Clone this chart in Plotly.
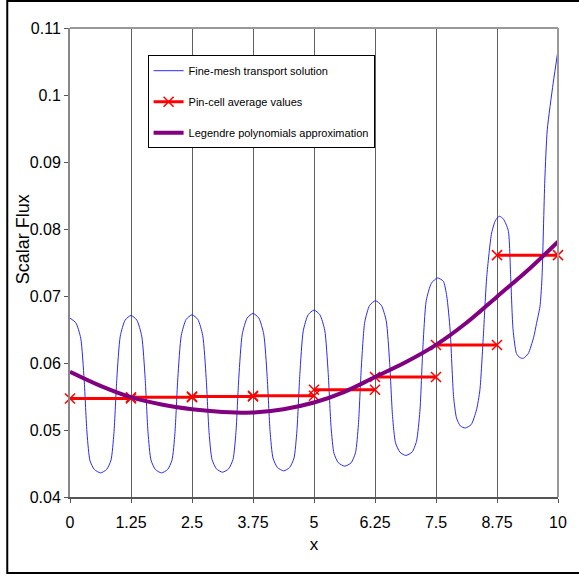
import plotly.graph_objects as go

# ---- Data ----
# Fine-mesh transport solution (x, flux)
fine_x = [0.00, 0.12, 0.22, 0.29, 0.35, 0.41, 0.50, 0.625,
          0.75, 0.84, 0.90, 0.96, 1.03, 1.13, 1.25,
          1.37, 1.47, 1.54, 1.60, 1.66, 1.75, 1.875,
          2.00, 2.09, 2.15, 2.21, 2.28, 2.38, 2.50,
          2.62, 2.72, 2.79, 2.85, 2.91, 3.00, 3.125,
          3.25, 3.34, 3.40, 3.46, 3.53, 3.63, 3.75,
          3.87, 3.97, 4.04, 4.10, 4.16, 4.25, 4.38,
          4.50, 4.59, 4.65, 4.71, 4.78, 4.88, 5.00,
          5.12, 5.22, 5.29, 5.35, 5.41, 5.50, 5.63,
          5.76, 5.85, 5.91, 5.97, 6.04, 6.14, 6.26,
          6.38, 6.48, 6.55, 6.61, 6.67, 6.76, 6.88,
          7.01, 7.10, 7.17, 7.23, 7.30, 7.405, 7.53,
          7.65, 7.72, 7.79, 7.86, 7.92, 8.00, 8.10,
          8.22, 8.33, 8.40, 8.47, 8.54, 8.64, 8.72, 8.80,
          8.88, 8.98, 9.03, 9.08, 9.15, 9.22, 9.29,
          9.39, 9.50, 9.56, 9.63, 9.67, 9.73, 9.78, 9.90, 10.00]
fine_y = [0.0667, 0.0660, 0.0637, 0.0575, 0.0494, 0.0454, 0.0441, 0.0436,
          0.0441, 0.0455, 0.0495, 0.0577, 0.0640, 0.0664, 0.0671,
          0.0664, 0.0640, 0.0577, 0.0495, 0.0455, 0.0441, 0.0436,
          0.0441, 0.0455, 0.0495, 0.0578, 0.0641, 0.0665, 0.0672,
          0.0665, 0.0641, 0.0578, 0.0496, 0.0456, 0.0442, 0.0437,
          0.0442, 0.0456, 0.0496, 0.0579, 0.0643, 0.0667, 0.0674,
          0.0667, 0.0643, 0.0580, 0.0498, 0.0458, 0.0444, 0.0439,
          0.0444, 0.0458, 0.0499, 0.0583, 0.0648, 0.0672, 0.0679,
          0.0672, 0.0649, 0.0586, 0.0504, 0.0465, 0.0451, 0.0446,
          0.0451, 0.0466, 0.0508, 0.0594, 0.0661, 0.0686, 0.0693,
          0.0686, 0.0663, 0.0601, 0.0520, 0.0481, 0.0467, 0.0462,
          0.0467, 0.0483, 0.0528, 0.0621, 0.0693, 0.0719, 0.0727,
          0.0722, 0.0700, 0.0649, 0.0550, 0.0518, 0.0506, 0.0503,
          0.0508, 0.0530, 0.0560, 0.0640, 0.0729, 0.0794, 0.0813, 0.0819,
          0.0815, 0.0798, 0.0729, 0.0649, 0.0614, 0.0608, 0.0607,
          0.0614, 0.0638, 0.0659, 0.0684, 0.0724, 0.0873, 0.0948, 0.1017, 0.1067]

# Pin-cell boundaries and average values
cell_edges = [0, 1.25, 2.5, 3.75, 5.0, 6.25, 7.5, 8.75, 10.0]
cell_avg = [0.0547, 0.0549, 0.0550, 0.0551, 0.0560, 0.0579, 0.0627, 0.0761]

# Legendre polynomial approximation
leg_x = [0, 0.625, 1.25, 1.875, 2.5, 3.125, 3.75, 4.375, 5.0,
         5.625, 6.25, 6.875, 7.5, 8.125, 8.75, 9.375, 10.0]
leg_y = [0.0587, 0.0566, 0.0549, 0.0538, 0.0531, 0.0527, 0.0526, 0.0531, 0.0541,
         0.0557, 0.0579, 0.0601, 0.0627, 0.0660, 0.0699, 0.0738, 0.0781]

x_ticks = [0, 1.25, 2.5, 3.75, 5, 6.25, 7.5, 8.75, 10]
x_ticktext = ["0", "1.25", "2.5", "3.75", "5", "6.25", "7.5", "8.75", "10"]
y_ticks = [0.04, 0.05, 0.06, 0.07, 0.08, 0.09, 0.10, 0.11]
y_ticktext = ["0.04", "0.05", "0.06", "0.07", "0.08", "0.09", "0.1", "0.11"]

# step segments (with breaks)
step_x, step_y = [], []
for i, v in enumerate(cell_avg):
    step_x += [cell_edges[i], cell_edges[i + 1], None]
    step_y += [v, v, None]

FONT = "Arial, Liberation Sans, sans-serif"

fig = go.Figure()
fig.add_trace(go.Scatter(x=fine_x, y=fine_y, mode="lines",
                         name="Fine-mesh transport solution",
                         line=dict(color="#2a2af5", width=1, shape="spline", smoothing=0.6),
                         legendgroup="a"))
fig.add_trace(go.Scatter(x=step_x, y=step_y, mode="lines+markers",
                         name="Pin-cell average values",
                         line=dict(color="#ff0000", width=3),
                         marker=dict(symbol="x-thin", size=10, color="#ff0000",
                                     line=dict(color="#ff0000", width=1.5)),
                         cliponaxis=False, legendgroup="b"))
fig.add_trace(go.Scatter(x=leg_x, y=leg_y, mode="lines",
                         name="Legendre polynomials approximation",
                         line=dict(color="#800080", width=4, shape="spline"),
                         legendgroup="c"))

fig.update_layout(
    width=579, height=578,
    margin=dict(l=70, r=19, t=28, b=81),
    paper_bgcolor="white", plot_bgcolor="white",
    font=dict(family=FONT, color="black"),
    showlegend=True,
    legend=dict(x=0.159, y=0.942, xanchor="left", yanchor="top",
                bgcolor="white", bordercolor="black", borderwidth=1,
                font=dict(family=FONT, size=11, color="black"),
                tracegroupgap=12, traceorder="grouped"),
    xaxis=dict(range=[0, 10], tickvals=x_ticks, ticktext=x_ticktext,
               showgrid=True, gridcolor="#606060", gridwidth=1,
               showline=True, linecolor="#555555", linewidth=2, mirror=False,
               ticks="outside", ticklen=4, tickcolor="#555555",
               ticklabelstandoff=6,
               tickfont=dict(family=FONT, size=16),
               title=dict(text="x", font=dict(family=FONT, size=17), standoff=8),
               zeroline=False, fixedrange=True),
    yaxis=dict(range=[0.04, 0.11], tickvals=y_ticks, ticktext=y_ticktext,
               showgrid=False,
               showline=True, linecolor="#888888", linewidth=2,
               ticks="outside", ticklen=4, tickcolor="#555555",
               tickfont=dict(family=FONT, size=16),
               zeroline=False, fixedrange=True),
    annotations=[
        dict(text="Scalar Flux", xref="paper", yref="paper",
             x=(23 - 70) / 490, y=(497 - 239) / 469, textangle=-90,
             showarrow=False, xanchor="center", yanchor="middle",
             font=dict(family=FONT, size=18, color="black")),
    ],
    shapes=[
        # plot-area top and right border
        dict(type="line", xref="paper", yref="paper", x0=0, x1=1, y0=1, y1=1,
             line=dict(color="#999999", width=2)),
        dict(type="line", xref="paper", yref="paper", x0=1, x1=1, y0=0, y1=1,
             line=dict(color="#999999", width=2)),
        # outer chart frame
        dict(type="rect", xref="paper", yref="paper",
             x0=(7 - 70) / 490, x1=(590 - 70) / 490,
             y0=(497 - 573) / 469, y1=(497 - 1) / 469,
             line=dict(color="black", width=2), fillcolor="rgba(0,0,0,0)", layer="below"),
    ],
)

fig.write_html("out.html")
